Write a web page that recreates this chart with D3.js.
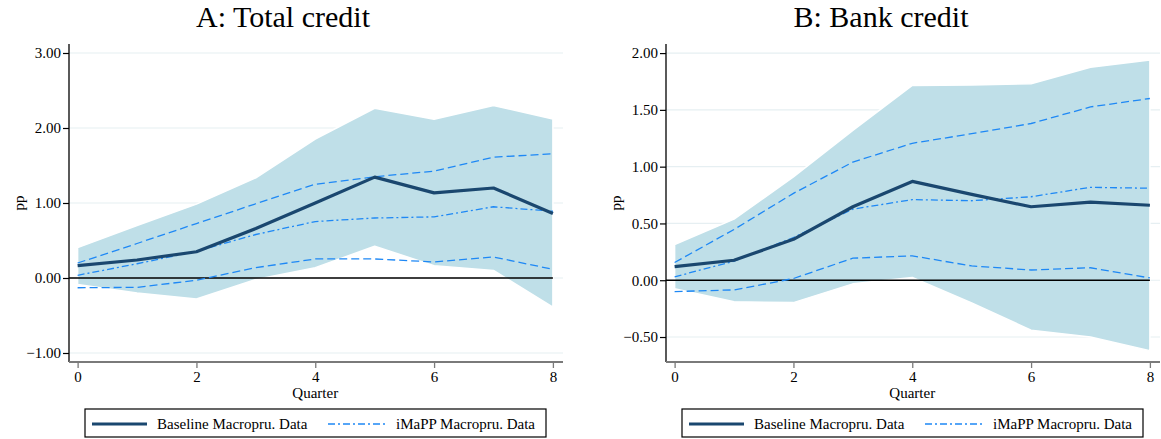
<!DOCTYPE html>
<html>
<head>
<meta charset="utf-8">
<script src="https://cdn.jsdelivr.net/npm/d3@7"></script>
<style>
  html, body { margin: 0; padding: 0; background: #fff; }
  svg { display: block; }
  text { font-family: "Liberation Serif", "Times New Roman", serif; fill: #000; }
</style>
</head>
<body>
<svg id="chart" width="1161" height="439"></svg>
<script>
// Impulse responses by quarter after the shock (percentage points)
const quarters = [0, 1, 2, 3, 4, 5, 6, 7, 8];

// Panel A: Total credit
const totalBaseline = [0.165, 0.24, 0.35, 0.66, 1.00, 1.345, 1.135, 1.20, 0.86];
const totalBandLow  = [-0.085, -0.20, -0.28, -0.02, 0.138, 0.423, 0.165, 0.10, -0.39];
const totalBandHigh = [0.405, 0.70, 0.985, 1.336, 1.853, 2.263, 2.116, 2.30, 2.12];
const totalImappMid  = [0.036, 0.19, 0.356, 0.58, 0.753, 0.80, 0.815, 0.95, 0.89];
const totalImappLow  = [-0.13, -0.125, -0.03, 0.138, 0.254, 0.254, 0.214, 0.28, 0.116];
const totalImappHigh = [0.20, 0.46, 0.726, 0.99, 1.25, 1.35, 1.425, 1.61, 1.657];

// Panel B: Bank credit
const bankBaseline = [0.12, 0.176, 0.36, 0.647, 0.87, 0.756, 0.647, 0.688, 0.66];
const bankBandLow  = [-0.074, -0.19, -0.197, -0.032, 0.024, -0.20, -0.44, -0.50, -0.62];
const bankBandHigh = [0.315, 0.538, 0.91, 1.32, 1.715, 1.72, 1.73, 1.876, 1.94];
const bankImappMid  = [0.03, 0.168, 0.376, 0.626, 0.71, 0.70, 0.735, 0.818, 0.81];
const bankImappLow  = [-0.10, -0.085, 0.015, 0.194, 0.215, 0.126, 0.09, 0.11, 0.02];
const bankImappHigh = [0.156, 0.447, 0.765, 1.04, 1.206, 1.29, 1.38, 1.526, 1.60];

// Axis ticks
const xTicks = [0, 2, 4, 6, 8];
const totalYTicks = [-1, 0, 1, 2, 3];
const bankYTicks = [-0.5, 0, 0.5, 1, 1.5, 2];

const titles = ["A: Total credit", "B: Bank credit"];
const legendLabels = ["Baseline Macropru. Data", "iMaPP Macropru. Data"];

const colors = {
  band: "#bfdfe8",
  baseline: "#1a476f",
  imapp: "#1e88f5",
  grid: "#e6eff2",
  xaxis: "#7a7a7a"
};

const svg = d3.select("#chart");

const panels = [
  {
    title: titles[0], titleX: 283, offset: 0,
    yDomain: [-1.12, 3.12], yTicks: totalYTicks,
    baseline: totalBaseline, low: totalBandLow, high: totalBandHigh,
    mid: totalImappMid, iLow: totalImappLow, iHigh: totalImappHigh
  },
  {
    title: titles[1], titleX: 881, offset: 597,
    yDomain: [-0.72, 2.08], yTicks: bankYTicks,
    baseline: bankBaseline, low: bankBandLow, high: bankBandHigh,
    mid: bankImappMid, iLow: bankImappLow, iHigh: bankImappHigh
  }
];

panels.forEach(p => {
  const left = 69 + p.offset, right = 563 + p.offset;
  const top = 44, bottom = 362;

  const x = d3.scaleLinear().domain([-0.145, 8.17]).range([left, right]);
  const y = d3.scaleLinear().domain(p.yDomain).range([bottom, top]);

  const g = svg.append("g");

  // Title
  g.append("text")
    .attr("x", p.titleX).attr("y", 27)
    .attr("text-anchor", "middle")
    .style("font-size", "30px")
    .text(p.title);

  // Horizontal gridlines
  g.append("g").selectAll("line")
    .data(p.yTicks)
    .join("line")
    .attr("x1", left).attr("x2", right)
    .attr("y1", d => y(d)).attr("y2", d => y(d))
    .attr("stroke", colors.grid).attr("stroke-width", 1.2);

  // Confidence band
  const area = d3.area()
    .x((d, i) => x(quarters[i]))
    .y0((d, i) => y(p.low[i]))
    .y1(d => y(d));
  g.append("path")
    .datum(p.high)
    .attr("d", area)
    .attr("fill", colors.band)
    .attr("stroke", "#fff")
    .attr("stroke-width", 1.5)
    .attr("stroke-linejoin", "round");

  // Zero line
  g.append("line")
    .attr("x1", left).attr("x2", x(8))
    .attr("y1", y(0)).attr("y2", y(0))
    .attr("stroke", "#000").attr("stroke-width", 1.3);

  const line = d3.line().x((d, i) => x(quarters[i])).y(d => y(d));

  // iMaPP bounds (dashed) and point estimate (dash-dot)
  [p.iHigh, p.iLow].forEach(s => {
    g.append("path").datum(s).attr("d", line)
      .attr("fill", "none").attr("stroke", colors.imapp)
      .attr("stroke-width", 1.3).attr("stroke-dasharray", "8,4");
  });
  g.append("path").datum(p.mid).attr("d", line)
    .attr("fill", "none").attr("stroke", colors.imapp)
    .attr("stroke-width", 1.3).attr("stroke-dasharray", "7,3,2,3");

  // Baseline estimate
  g.append("path").datum(p.baseline).attr("d", line)
    .attr("fill", "none").attr("stroke", colors.baseline)
    .attr("stroke-width", 3.2).attr("stroke-linejoin", "round");

  // Y axis
  const yAxis = d3.axisLeft(y).tickValues(p.yTicks)
    .tickFormat(d3.format(".2f")).tickSize(6).tickPadding(2);
  const ya = g.append("g").attr("transform", `translate(${left},0)`).call(yAxis);
  ya.select(".domain").attr("d", `M0,${top}V${bottom}`).attr("stroke", "#000").attr("stroke-width", 1.3);
  ya.selectAll(".tick line").attr("stroke", "#000").attr("stroke-width", 1.2);
  ya.selectAll(".tick text")
    .style("font-family", '"Liberation Serif", serif')
    .style("font-size", "15px").attr("fill", "#000");

  // X axis
  const xAxis = d3.axisBottom(x).tickValues(xTicks)
    .tickFormat(d3.format("d")).tickSize(6).tickPadding(3);
  const xa = g.append("g").attr("transform", `translate(0,${bottom})`).call(xAxis);
  xa.select(".domain").attr("d", `M${left},0H${right}`).attr("stroke", colors.xaxis).attr("stroke-width", 2.2);
  xa.selectAll(".tick line").attr("stroke", colors.xaxis).attr("stroke-width", 1.3);
  xa.selectAll(".tick text")
    .style("font-family", '"Liberation Serif", serif')
    .style("font-size", "15px").attr("fill", "#000");

  // Axis titles
  g.append("text")
    .attr("x", (x(0) + x(8)) / 2).attr("y", 398)
    .attr("text-anchor", "middle")
    .style("font-size", "15px")
    .text("Quarter");
  g.append("text")
    .attr("transform", `translate(${left - 45},${(top + bottom) / 2}) rotate(-90)`)
    .attr("text-anchor", "middle")
    .style("font-size", "15px")
    .text("pp");

  // Legend
  const lx = 85 + p.offset;
  const lg = g.append("g").attr("transform", `translate(${lx},409)`);
  lg.append("rect")
    .attr("x", 0).attr("y", 0).attr("width", 461).attr("height", 28)
    .attr("fill", "#fff").attr("stroke", "#000").attr("stroke-width", 1.2);
  lg.append("line")
    .attr("x1", 7).attr("x2", 62).attr("y1", 15).attr("y2", 15)
    .attr("stroke", colors.baseline).attr("stroke-width", 3.2);
  lg.append("text")
    .attr("x", 72).attr("y", 20)
    .style("font-size", "15px")
    .text(legendLabels[0]);
  lg.append("line")
    .attr("x1", 243).attr("x2", 301).attr("y1", 15).attr("y2", 15)
    .attr("stroke", colors.imapp).attr("stroke-width", 1.3)
    .attr("stroke-dasharray", "7,3,2,3");
  lg.append("text")
    .attr("x", 311).attr("y", 20)
    .style("font-size", "15px")
    .text(legendLabels[1]);
});
</script>
</body>
</html>
